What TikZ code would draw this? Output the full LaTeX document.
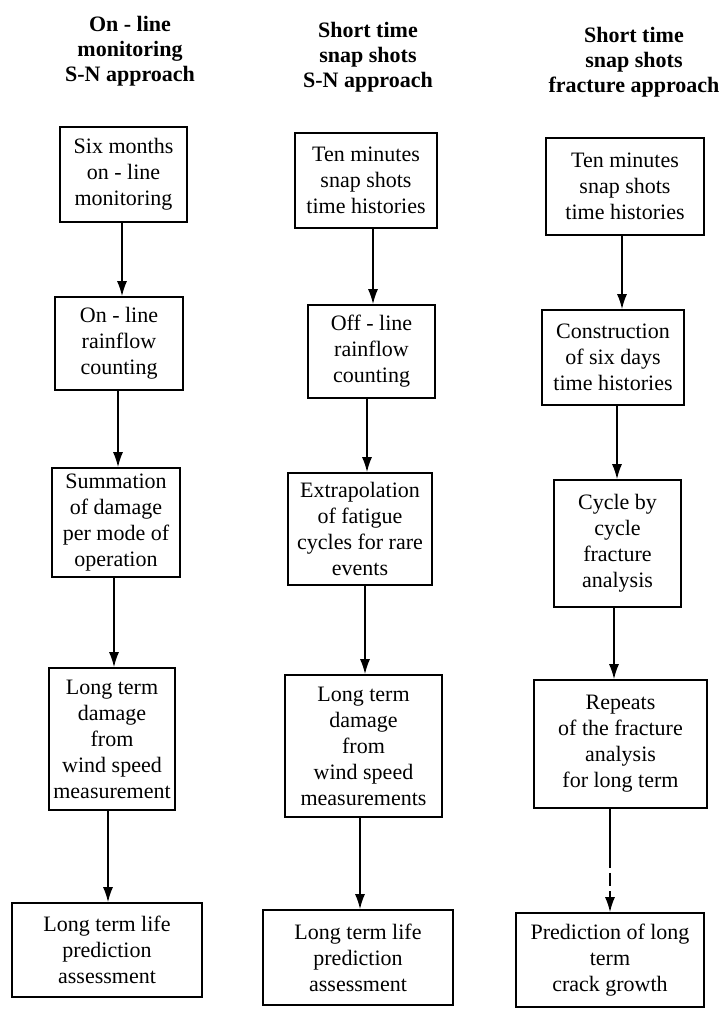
\documentclass[tikz,border=0pt]{standalone}
\usepackage{fontspec}
\setmainfont{Liberation Serif}
\usetikzlibrary{arrows.meta}
\begin{document}
\begin{tikzpicture}[x=1pt,y=-1pt,
  box/.style={draw, line width=1.6pt, align=center, inner sep=0pt, font=\fontsize{22}{26}\selectfont},
  ttl/.style={align=center, inner sep=0pt, font=\fontsize{22}{25}\selectfont\bfseries},
  arr/.style={line width=1.6pt, -{Latex[length=15pt,width=10pt]}}]
\path[use as bounding box] (0,0) rectangle (724,1009);
% titles
\node[ttl] (t1) at (130,51) {On - line\\monitoring\\S-N approach};
\node[ttl] (t2) at (368,57) {Short time\\snap shots\\S-N approach};
\node[ttl] (t3) at (634,62) {Short time\\snap shots\\fracture approach};
% column 1
\node[box, minimum width=127, minimum height=95] (a1) at (123.5,174.5) {Six months\\on - line\\monitoring};
\node[box, minimum width=128, minimum height=93] (a2) at (119,343.5) {On - line\\rainflow\\counting};
\node[box, minimum width=128, minimum height=109] (a3) at (116,522.5) {Summation\\of damage\\per mode of\\operation};
\node[box, minimum width=126, minimum height=142] (a4) at (112,739) {Long term\\damage\\from\\wind speed\\measurement};
\node[box, minimum width=190, minimum height=94] (a5) at (107,950) {Long term life\\prediction\\assessment};
% column 2
\node[box, minimum width=142, minimum height=95] (b1) at (366,180.5) {Ten minutes\\snap shots\\time histories};
\node[box, minimum width=127, minimum height=93] (b2) at (371.5,351.5) {Off - line\\rainflow\\counting};
\node[box, minimum width=144, minimum height=112] (b3) at (360,529) {Extrapolation\\of fatigue\\cycles for rare\\events};
\node[box, minimum width=157, minimum height=142] (b4) at (363.5,746) {Long term\\damage\\from\\wind speed\\measurements};
\node[box, minimum width=190, minimum height=95] (b5) at (358,957.5) {Long term life\\prediction\\assessment};
% column 3
\node[box, minimum width=158, minimum height=97] (c1) at (625,186.5) {Ten minutes\\snap shots\\time histories};
\node[box, minimum width=142, minimum height=95] (c2) at (613,357.5) {Construction\\of six days\\time histories};
\node[box, minimum width=127, minimum height=127] (c3) at (617.5,543.5) {Cycle by\\cycle\\fracture\\analysis};
\node[box, minimum width=173, minimum height=128] (c4) at (620.5,744) {Repeats\\of the fracture\\analysis\\for long term};
\node[box, minimum width=188, minimum height=94] (c5) at (610,960) {Prediction of long\\term\\crack growth};
% arrow lanes
\coordinate (xa1) at (122,0); \coordinate (xa2) at (118,0);
\coordinate (xa3) at (114,0); \coordinate (xa4) at (108,0);
\coordinate (xb1) at (373,0); \coordinate (xb2) at (367,0);
\coordinate (xb3) at (365,0); \coordinate (xb4) at (360,0);
\coordinate (xc1) at (622,0); \coordinate (xc2) at (617,0);
\coordinate (xc3) at (614,0); \coordinate (xc4) at (610,0);
% arrows
\draw[arr] (a1.south -| xa1) -- (a2.north -| xa1);
\draw[arr] (a2.south -| xa2) -- (a3.north -| xa2);
\draw[arr] (a3.south -| xa3) -- (a4.north -| xa3);
\draw[arr] (a4.south -| xa4) -- (a5.north -| xa4);
\draw[arr] (b1.south -| xb1) -- (b2.north -| xb1);
\draw[arr] (b2.south -| xb2) -- (b3.north -| xb2);
\draw[arr] (b3.south -| xb3) -- (b4.north -| xb3);
\draw[arr] (b4.south -| xb4) -- (b5.north -| xb4);
\draw[arr] (c1.south -| xc1) -- (c2.north -| xc1);
\draw[arr] (c2.south -| xc2) -- (c3.north -| xc2);
\draw[arr] (c3.south -| xc3) -- (c4.north -| xc3);
\draw[arr, dash pattern=on 59pt off 5pt on 13pt off 5pt on 200pt] (c4.south -| xc4) -- (c5.north -| xc4);
\end{tikzpicture}
\end{document}
